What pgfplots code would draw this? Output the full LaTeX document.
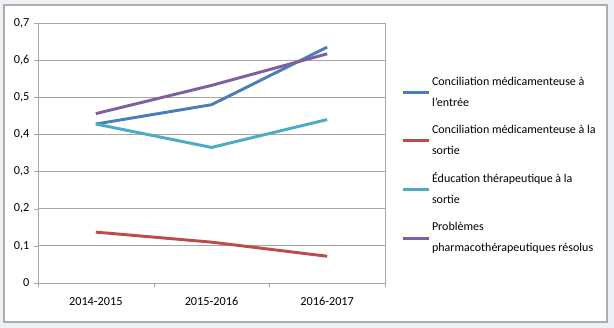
\documentclass[border=0pt]{standalone}
\usepackage{pgfplots}
\pgfplotsset{compat=1.18}
\usepackage{fontspec}
\setmainfont{Carlito}
\definecolor{cblue}{HTML}{4A7EBB}
\definecolor{cred}{HTML}{BE4B48}
\definecolor{ccyan}{HTML}{4BACC6}
\definecolor{cpurple}{HTML}{7D60A0}
\definecolor{bg}{HTML}{EDF1F6}
\definecolor{gridc}{HTML}{A6A6A6}
\begin{document}
\begin{tikzpicture}
\fill[bg] (0,0) rectangle (460.5pt,246pt);
\draw[fill=white,draw=gray!65,line width=1pt] (3pt,4.5pt) rectangle (455.25pt,242.25pt);
\begin{axis}[
  at={(28.5pt,33.75pt)}, anchor=south west,
  scale only axis, width=260.25pt, height=195pt,
  xmin=0.5, xmax=3.5, ymin=0, ymax=0.7,
  ytick={0,0.1,0.2,0.3,0.4,0.5,0.6,0.7},
  xtick={1,2,3}, xticklabels={2014-2015,2015-2016,2016-2017},
  minor xtick={0.5,1.5,2.5,3.5},
  major x tick style={draw=none},
  minor tick length=3pt, major tick length=3pt,
  tick align=outside, tick pos=left,
  tick style={gridc},
  axis line style={gridc},
  ymajorgrids, major grid style={gridc, line width=0.6pt},
  font=\fontsize{9.2}{11}\selectfont,
  yticklabel={\pgfmathprintnumber[fixed,precision=1,use comma,assume math mode=true]{\tick}},
  xticklabel style={yshift=-4pt},
  legend style={at={(1.036,0.815)}, anchor=north west, draw=none, fill=none,
    font=\fontsize{9}{15.75}\selectfont, nodes={align=left, inner xsep=1.5pt}, row sep=8.5pt},
  legend cell align=left,
  legend image code/.code={\draw[#1,line width=2.2pt] (0pt,0pt) -- (19pt,0pt);},
  every axis plot/.append style={line width=2.2pt},
]
\addplot[cblue] coordinates {(1,0.428) (2,0.48) (3,0.635)};
\addlegendentry{Conciliation médicamenteuse à\\l'entrée}
\addplot[cred] coordinates {(1,0.137) (2,0.11) (3,0.072)};
\addlegendentry{Conciliation médicamenteuse à la\\sortie}
\addplot[ccyan] coordinates {(1,0.428) (2,0.365) (3,0.44)};
\addlegendentry{Éducation thérapeutique à la\\sortie}
\addplot[cpurple] coordinates {(1,0.456) (2,0.532) (3,0.617)};
\addlegendentry{Problèmes\\pharmacothérapeutiques résolus}
\end{axis}
\end{tikzpicture}
\end{document}
